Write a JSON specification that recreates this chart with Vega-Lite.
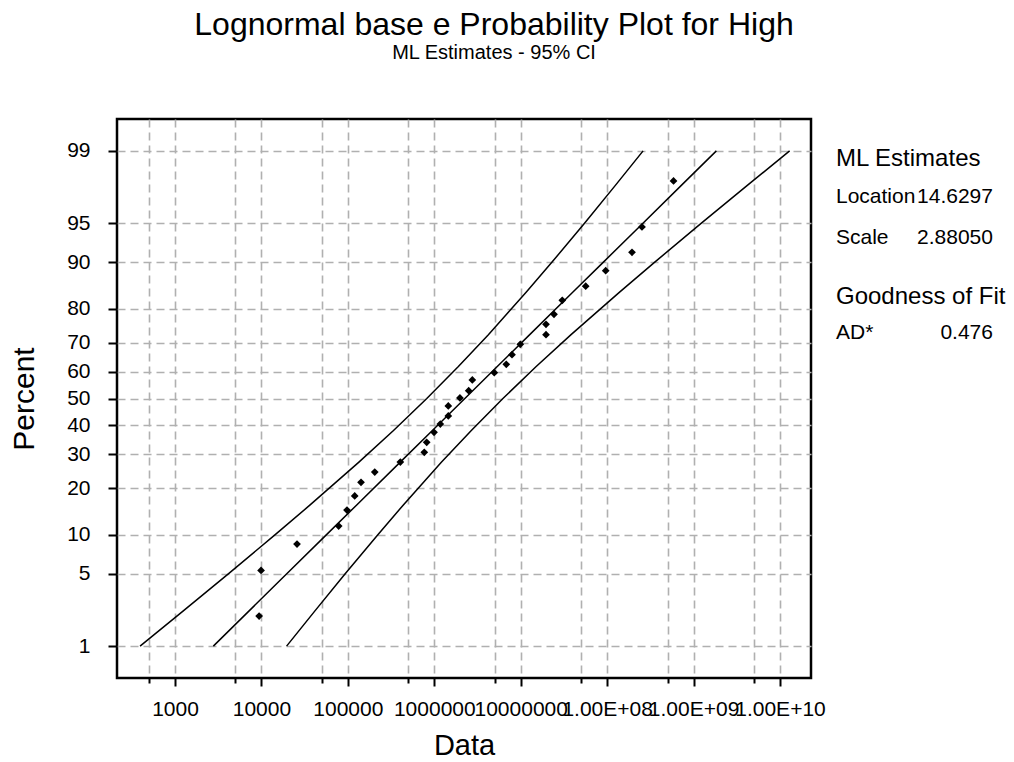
{
  "$schema": "https://vega.github.io/schema/vega-lite/v6.json",
  "width": 694,
  "height": 559,
  "autosize": {"type": "none"},
  "padding": {"left": 117, "top": 119, "right": 203, "bottom": 84},
  "background": "white",
  "config": {
    "font": "Liberation Sans",
    "view": {"stroke": "black", "strokeWidth": 2.5}
  },
  "title": {
    "text": "Lognormal base e Probability Plot for High",
    "subtitle": "ML Estimates - 95% CI",
    "font": "Liberation Sans",
    "fontSize": 32,
    "fontWeight": "normal",
    "color": "black",
    "subtitleFont": "Liberation Sans",
    "subtitleFontSize": 20,
    "subtitleColor": "black",
    "subtitlePadding": 1,
    "anchor": "middle",
    "frame": "group",
    "dx": 30,
    "offset": 55
  },
  "resolve": {"axis": {"x": "independent", "y": "independent"}},
  "datasets": {
    "points": [
      {"data": 9400, "z": -2.044},
      {"data": 9900, "z": -1.615},
      {"data": 25800, "z": -1.368},
      {"data": 78300, "z": -1.198},
      {"data": 97700, "z": -1.048},
      {"data": 120000, "z": -0.916},
      {"data": 142000, "z": -0.788},
      {"data": 204700, "z": -0.691},
      {"data": 404700, "z": -0.597},
      {"data": 766000, "z": -0.506},
      {"data": 817000, "z": -0.412},
      {"data": 993000, "z": -0.318},
      {"data": 1174000, "z": -0.24},
      {"data": 1452000, "z": -0.164},
      {"data": 1452000, "z": -0.07},
      {"data": 1980000, "z": 0.005},
      {"data": 2500000, "z": 0.073},
      {"data": 2754000, "z": 0.174},
      {"data": 4944000, "z": 0.243},
      {"data": 6808000, "z": 0.321},
      {"data": 7925000, "z": 0.412},
      {"data": 9885000, "z": 0.509},
      {"data": 19610000, "z": 0.6},
      {"data": 19610000, "z": 0.697},
      {"data": 24270000, "z": 0.791},
      {"data": 30270000, "z": 0.923},
      {"data": 56470000, "z": 1.055},
      {"data": 96180000, "z": 1.201},
      {"data": 193900000, "z": 1.374},
      {"data": 252900000, "z": 1.612},
      {"data": 586000000, "z": 2.044}
    ],
    "curves": [
      {"series": "fit", "data": 2776, "z": -2.3263},
      {"series": "fit", "data": 7106, "z": -2.0},
      {"series": "fit", "data": 19762, "z": -1.6449},
      {"series": "fit", "data": 56276, "z": -1.2816},
      {"series": "fit", "data": 126648, "z": -1.0},
      {"series": "fit", "data": 400858, "z": -0.6},
      {"series": "fit", "data": 951250, "z": -0.3},
      {"series": "fit", "data": 2257260, "z": 0},
      {"series": "fit", "data": 5356390, "z": 0.3},
      {"series": "fit", "data": 12710800, "z": 0.6},
      {"series": "fit", "data": 40231100, "z": 1.0},
      {"series": "fit", "data": 90540000, "z": 1.2816},
      {"series": "fit", "data": 257821000, "z": 1.6449},
      {"series": "fit", "data": 717036000, "z": 2.0},
      {"series": "fit", "data": 1835440000, "z": 2.3263},
      {"series": "lower", "data": 394.2, "z": -2.3263},
      {"series": "lower", "data": 1227, "z": -2.0},
      {"series": "lower", "data": 4172, "z": -1.6449},
      {"series": "lower", "data": 14323, "z": -1.2816},
      {"series": "lower", "data": 36580, "z": -1.0},
      {"series": "lower", "data": 133234, "z": -0.6},
      {"series": "lower", "data": 337380, "z": -0.3},
      {"series": "lower", "data": 818760, "z": 0},
      {"series": "lower", "data": 1899780, "z": 0.3},
      {"series": "lower", "data": 4224760, "z": 0.6},
      {"series": "lower", "data": 11619400, "z": 1.0},
      {"series": "lower", "data": 23043200, "z": 1.2816},
      {"series": "lower", "data": 54428700, "z": 1.6449},
      {"series": "lower", "data": 123820000, "z": 2.0},
      {"series": "lower", "data": 260610000, "z": 2.3263},
      {"series": "upper", "data": 19546, "z": -2.3263},
      {"series": "upper", "data": 41155, "z": -2.0},
      {"series": "upper", "data": 93614, "z": -1.6449},
      {"series": "upper", "data": 221115, "z": -1.2816},
      {"series": "upper", "data": 438480, "z": -1.0},
      {"series": "upper", "data": 1206060, "z": -0.6},
      {"series": "upper", "data": 2682010, "z": -0.3},
      {"series": "upper", "data": 6222310, "z": 0},
      {"series": "upper", "data": 15102200, "z": 0.3},
      {"series": "upper", "data": 38242100, "z": 0.6},
      {"series": "upper", "data": 139286000, "z": 1.0},
      {"series": "upper", "data": 355746000, "z": 1.2816},
      {"series": "upper", "data": 1221260000, "z": 1.6449},
      {"series": "upper", "data": 4152300000, "z": 2.0},
      {"series": "upper", "data": 12926800000, "z": 2.3263}
    ]
  },
  "layer": [
    {
      "data": {"name": "curves"},
      "mark": {"type": "line", "color": "black", "strokeWidth": 1.5},
      "encoding": {
        "x": {
          "field": "data", "type": "quantitative",
          "scale": {"type": "log", "domain": [213.2, 22840000000], "nice": false, "zero": false},
          "axis": {
            "title": "Data",
            "values": [500, 1000, 5000, 10000, 50000, 100000, 500000, 1000000, 5000000, 10000000, 50000000, 100000000, 500000000, 1000000000, 5000000000, 10000000000],
            "labelExpr": "datum.value == 1000 ? '1000' : datum.value == 10000 ? '10000' : datum.value == 100000 ? '100000' : datum.value == 1000000 ? '1000000' : datum.value == 10000000 ? '10000000' : datum.value == 100000000 ? '1.00E+08' : datum.value == 1000000000 ? '1.00E+09' : datum.value == 10000000000 ? '1.00E+10' : ''",
            "labelOverlap": false,
            "labelFlush": false,
            "labelBound": false,
            "labelFont": "Liberation Sans",
            "labelFontSize": 21,
            "labelColor": "black",
            "labelPadding": 12,
            "domain": false,
            "grid": true,
            "gridColor": "#b0b0b0",
            "gridDash": [8, 5],
            "gridWidth": 1.6,
            "tickColor": "black",
            "tickWidth": 2,
            "tickSize": {"condition": {"test": "indexof([500,5000,50000,500000,5000000,50000000,500000000,5000000000], datum.value) >= 0", "value": 5}, "value": 8},
            "titleFont": "Liberation Sans",
            "titleFontSize": 29,
            "titleFontWeight": "normal",
            "titleColor": "black",
            "titlePadding": 12
          }
        },
        "y": {
          "field": "z", "type": "quantitative",
          "scale": {"type": "linear", "domain": [-2.626, 2.626], "nice": false, "zero": false},
          "axis": {
            "title": "Percent",
            "values": [-2.3263, -1.6449, -1.2816, -0.8416, -0.5244, -0.2533, 0, 0.2533, 0.5244, 0.8416, 1.2816, 1.6449, 2.3263],
            "labelExpr": "format(round(cumulativeNormal(datum.value) * 100), 'd')",
            "labelFont": "Liberation Sans",
            "labelFontSize": 21,
            "labelColor": "black",
            "labelPadding": 18,
            "labelOverlap": false,
            "labelFlush": false,
            "labelBound": false,
            "domain": false,
            "grid": true,
            "gridColor": "#b0b0b0",
            "gridDash": [8, 5],
            "gridWidth": 1.6,
            "tickColor": "black",
            "tickWidth": 2,
            "tickSize": 9,
            "titleFont": "Liberation Sans",
            "titleFontSize": 30,
            "titleFontWeight": "normal",
            "titleColor": "black",
            "titlePadding": 27
          }
        },
        "detail": {"field": "series", "type": "nominal"},
        "order": {"field": "z", "type": "quantitative"}
      }
    },
    {
      "data": {"name": "points"},
      "mark": {"type": "point", "shape": "diamond", "filled": true, "color": "black", "size": 60, "opacity": 1},
      "encoding": {
        "x": {"field": "data", "type": "quantitative", "scale": {"type": "log", "domain": [213.2, 22840000000], "nice": false, "zero": false}, "axis": null},
        "y": {"field": "z", "type": "quantitative", "scale": {"type": "linear", "domain": [-2.626, 2.626], "nice": false, "zero": false}, "axis": null}
      }
    },
    {
      "data": {"values": [{}]},
      "mark": {"type": "text", "text": "ML Estimates", "align": "left", "baseline": "middle", "font": "Liberation Sans", "fontSize": 24, "color": "black"},
      "encoding": {
        "x": {"datum": 44450000000, "type": "quantitative", "scale": {"type": "log", "domain": [213.2, 22840000000], "nice": false, "zero": false}, "axis": null},
        "y": {"datum": 2.251, "type": "quantitative", "scale": {"type": "linear", "domain": [-2.626, 2.626], "nice": false, "zero": false}, "axis": null}
      }
    },
    {
      "data": {"values": [{}]},
      "mark": {"type": "text", "text": "Location", "align": "left", "baseline": "middle", "font": "Liberation Sans", "fontSize": 21, "color": "black"},
      "encoding": {
        "x": {"datum": 44450000000, "type": "quantitative", "scale": {"type": "log", "domain": [213.2, 22840000000], "nice": false, "zero": false}, "axis": null},
        "y": {"datum": 1.894, "type": "quantitative", "scale": {"type": "linear", "domain": [-2.626, 2.626], "nice": false, "zero": false}, "axis": null}
      }
    },
    {
      "data": {"values": [{}]},
      "mark": {"type": "text", "text": "14.6297", "align": "right", "baseline": "middle", "font": "Liberation Sans", "fontSize": 21, "color": "black"},
      "encoding": {
        "x": {"datum": 2913000000000, "type": "quantitative", "scale": {"type": "log", "domain": [213.2, 22840000000], "nice": false, "zero": false}, "axis": null},
        "y": {"datum": 1.894, "type": "quantitative", "scale": {"type": "linear", "domain": [-2.626, 2.626], "nice": false, "zero": false}, "axis": null}
      }
    },
    {
      "data": {"values": [{}]},
      "mark": {"type": "text", "text": "Scale", "align": "left", "baseline": "middle", "font": "Liberation Sans", "fontSize": 21, "color": "black"},
      "encoding": {
        "x": {"datum": 44450000000, "type": "quantitative", "scale": {"type": "log", "domain": [213.2, 22840000000], "nice": false, "zero": false}, "axis": null},
        "y": {"datum": 1.509, "type": "quantitative", "scale": {"type": "linear", "domain": [-2.626, 2.626], "nice": false, "zero": false}, "axis": null}
      }
    },
    {
      "data": {"values": [{}]},
      "mark": {"type": "text", "text": "2.88050", "align": "right", "baseline": "middle", "font": "Liberation Sans", "fontSize": 21, "color": "black"},
      "encoding": {
        "x": {"datum": 2913000000000, "type": "quantitative", "scale": {"type": "log", "domain": [213.2, 22840000000], "nice": false, "zero": false}, "axis": null},
        "y": {"datum": 1.509, "type": "quantitative", "scale": {"type": "linear", "domain": [-2.626, 2.626], "nice": false, "zero": false}, "axis": null}
      }
    },
    {
      "data": {"values": [{}]},
      "mark": {"type": "text", "text": "Goodness of Fit", "align": "left", "baseline": "middle", "font": "Liberation Sans", "fontSize": 24, "color": "black"},
      "encoding": {
        "x": {"datum": 44450000000, "type": "quantitative", "scale": {"type": "log", "domain": [213.2, 22840000000], "nice": false, "zero": false}, "axis": null},
        "y": {"datum": 0.954, "type": "quantitative", "scale": {"type": "linear", "domain": [-2.626, 2.626], "nice": false, "zero": false}, "axis": null}
      }
    },
    {
      "data": {"values": [{}]},
      "mark": {"type": "text", "text": "AD*", "align": "left", "baseline": "middle", "font": "Liberation Sans", "fontSize": 21, "color": "black"},
      "encoding": {
        "x": {"datum": 44450000000, "type": "quantitative", "scale": {"type": "log", "domain": [213.2, 22840000000], "nice": false, "zero": false}, "axis": null},
        "y": {"datum": 0.616, "type": "quantitative", "scale": {"type": "linear", "domain": [-2.626, 2.626], "nice": false, "zero": false}, "axis": null}
      }
    },
    {
      "data": {"values": [{}]},
      "mark": {"type": "text", "text": "0.476", "align": "right", "baseline": "middle", "font": "Liberation Sans", "fontSize": 21, "color": "black"},
      "encoding": {
        "x": {"datum": 2913000000000, "type": "quantitative", "scale": {"type": "log", "domain": [213.2, 22840000000], "nice": false, "zero": false}, "axis": null},
        "y": {"datum": 0.616, "type": "quantitative", "scale": {"type": "linear", "domain": [-2.626, 2.626], "nice": false, "zero": false}, "axis": null}
      }
    }
  ]
}
